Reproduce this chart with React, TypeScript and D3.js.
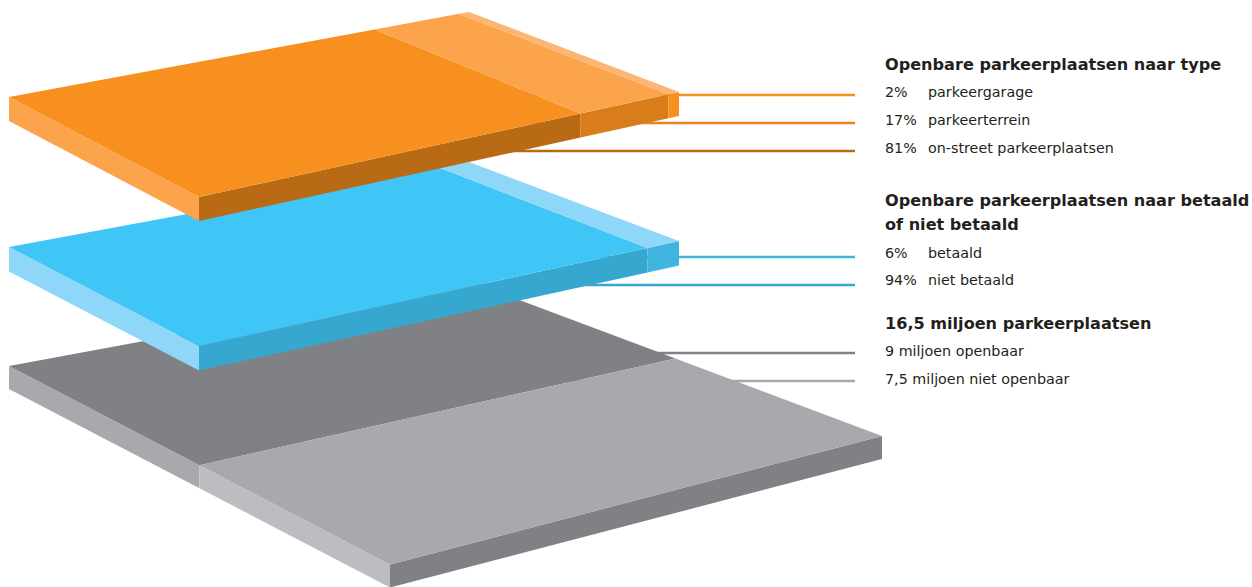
import React from "react";
import * as d3 from "d3";

type Pt = [number, number];

// Shares drawn on each plate, from the inner corner outwards
const typeNames = ["on-street parkeerplaatsen", "parkeerterrein", "parkeergarage"];
const typeShares = [81, 17, 2];
const payNames = ["niet betaald", "betaald"];
const payShares = [94, 6];
const spaceNames = ["miljoen openbaar", "miljoen niet openbaar"];
const spaceMillions = [9, 7.5];
const spaceLabels = ["9", "7,5"];

const titleType = "Openbare parkeerplaatsen naar type";
const titlePay = ["Openbare parkeerplaatsen naar betaald", "of niet betaald"];
const titleSpace = "16,5 miljoen parkeerplaatsen";

const INK = "#231f20";

// Palette per slice: top face, short side face, long side face
const orangeTop = ["#f7901e", "#fba44c", "#fdb574"];
const orangeFront = ["#b86a14", "#d87d1a", "#f7901e"];
const blueTop = ["#40c6f6", "#8fd7f8"];
const blueFront = ["#36a7cf", "#40b5e0"];
const greyTop = ["#808184", "#a7a9ac"];
const greySide = ["#a7a9ac", "#bcbdc0"];

const mix = (a: Pt, b: Pt, t: number): Pt => [a[0] + (b[0] - a[0]) * t, a[1] + (b[1] - a[1]) * t];

// Maps the unit square on to a plate. `stretch` foreshortens the slicing
// direction, so that a share sits slightly nearer the start of the edge.
function projector(a: Pt, b: Pt, c: Pt, d: Pt, stretch: number) {
  return (u: number, v: number): Pt => {
    const t = u / (u + stretch * (1 - u));
    return mix(mix(a, b, t), mix(d, c, t), v);
  };
}

const outline = d3.line<Pt>().curve(d3.curveLinearClosed);

function breaks(values: number[]): number[] {
  const total = d3.sum(values);
  const share = d3.scaleLinear().domain([0, total]).range([0, 1]);
  return [0, ...Array.from(d3.cumsum(values), share)];
}

const down = (p: Pt, depth: number): Pt => [p[0], p[1] + depth];

type PlateProps = {
  // corners in drawing order: start of the slicing edge, its end, then round
  corners: [Pt, Pt, Pt, Pt];
  values: number[];
  depth: number;
  stretch: number;
  top: string[];
  sliced: string[];
  plain?: string;
  slicedFace: "front" | "left";
};

function Plate({ corners, values, depth, stretch, top, sliced, plain, slicedFace }: PlateProps) {
  const at = projector(...corners, stretch);
  const cuts = breaks(values);
  const slices = d3.pairs(cuts);
  const sideEdge = slicedFace === "front" ? 1 : 0;
  const [c0, c1, c2, c3] = corners;
  return (
    <g>
      {slicedFace === "front" && (
        <path d={outline([c0, c3, down(c3, depth), down(c0, depth)])!} fill={plain} />
      )}
      {slicedFace === "left" && (
        <path d={outline([c1, c2, down(c2, depth), down(c1, depth)])!} fill={plain} />
      )}
      {slices.map(([u0, u1], i) => {
        const p = at(u0, sideEdge);
        const q = at(u1, sideEdge);
        return (
          <path key={`s${i}`} d={outline([p, q, down(q, depth), down(p, depth)])!} fill={sliced[i]} />
        );
      })}
      {slices.map(([u0, u1], i) => (
        <path
          key={`t${i}`}
          d={outline([at(u0, 0), at(u1, 0), at(u1, 1), at(u0, 1)])!}
          fill={top[i]}
        />
      ))}
    </g>
  );
}

const orangeCorners: [Pt, Pt, Pt, Pt] = [[9, 97], [469, 12], [679, 92], [199, 197]];
const blueCorners: [Pt, Pt, Pt, Pt] = [[9, 247], [469, 162], [679, 241], [199, 346]];
const greyCorners: [Pt, Pt, Pt, Pt] = [[9, 366], [390, 564.5], [882, 436], [469, 281]];

const leaders = [
  { y: 95, color: "#f7901e" },
  { y: 123, color: "#e3861f" },
  { y: 151, color: "#b86a14" },
  { y: 257, color: "#40b5e0" },
  { y: 285, color: "#36a7cf" },
  { y: 353, color: "#808184" },
  { y: 381, color: "#a7a9ac" },
];

const TEXT_X = 885;
const NAME_X = 928;
const BODY = 14.3;

function Title({ y, children }: { y: number; children: React.ReactNode }) {
  return (
    <text x={TEXT_X} y={y} fontSize={16.1} fontWeight={700} fill={INK}>
      {children}
    </text>
  );
}

function Row({ y, lead, name }: { y: number; lead: string; name: string }) {
  return (
    <g fontSize={BODY} fill={INK}>
      <text x={TEXT_X} y={y}>{lead}</text>
      <text x={NAME_X} y={y}>{name}</text>
    </g>
  );
}

export default function App() {
  return (
    <svg
      width={1252}
      height={587}
      viewBox="0 0 1252 587"
      style={{ position: "absolute", left: 0, top: 0, display: "block", background: "#fff" }}
      fontFamily="'DejaVu Sans', sans-serif"
    >
      {leaders.map((l) => (
        <line key={l.y} x1={450} x2={855} y1={l.y} y2={l.y} stroke={l.color} strokeWidth={2.4} />
      ))}

      <Plate corners={greyCorners} values={spaceMillions} depth={23} stretch={1.2} top={greyTop} sliced={greySide} plain="#808184" slicedFace="left" />
      <Plate corners={blueCorners} values={payShares} depth={24.5} stretch={1.1} top={blueTop} sliced={blueFront} plain="#8fd7f8" slicedFace="front" />
      <Plate corners={orangeCorners} values={typeShares} depth={24} stretch={1.1} top={orangeTop} sliced={orangeFront} plain="#fba44c" slicedFace="front" />

      <Title y={70}>{titleType}</Title>
      <Row y={97} lead={`${typeShares[2]}%`} name={typeNames[2]} />
      <Row y={125} lead={`${typeShares[1]}%`} name={typeNames[1]} />
      <Row y={153} lead={`${typeShares[0]}%`} name={typeNames[0]} />

      <Title y={206}>{titlePay[0]}</Title>
      <Title y={230}>{titlePay[1]}</Title>
      <Row y={258} lead={`${payShares[1]}%`} name={payNames[1]} />
      <Row y={285} lead={`${payShares[0]}%`} name={payNames[0]} />

      <Title y={329}>{titleSpace}</Title>
      <text x={TEXT_X} y={356} fontSize={BODY} fill={INK}>{`${spaceLabels[0]} ${spaceNames[0]}`}</text>
      <text x={TEXT_X} y={384} fontSize={BODY} fill={INK}>{`${spaceLabels[1]} ${spaceNames[1]}`}</text>
    </svg>
  );
}
